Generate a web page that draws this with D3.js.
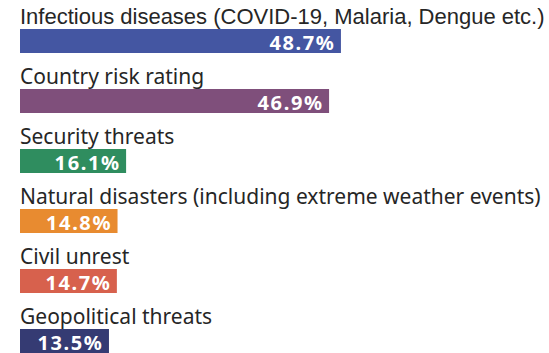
<!DOCTYPE html>
<html><head><meta charset="utf-8">
<script src="https://cdn.jsdelivr.net/npm/d3@7"></script>
<style>html,body{margin:0;padding:0;background:#fff;}svg{display:block;}</style>
</head><body><svg id="c" width="549" height="353"></svg>
<script>
const categories = [
  "Infectious diseases (COVID-19, Malaria, Dengue etc.)",
  "Country risk rating",
  "Security threats",
  "Natural disasters (including extreme weather events)",
  "Civil unrest",
  "Geopolitical threats"
];
const values = [48.7, 46.9, 16.1, 14.8, 14.7, 13.5];
const colors = ["#4456a2", "#7f4f7b", "#2f8d5f", "#e88b30", "#d7614d", "#353b73"];
const valueLabels = values.map(v => v.toFixed(1) + "%");

const svg = d3.select("#c");
const left = 20;
const x = d3.scaleLinear().domain([0, 50]).range([0, 329.5]);
const y = d3.scaleBand().domain(d3.range(categories.length)).range([0, 360]);

const g = svg.selectAll("g.row").data(categories).join("g")
  .attr("class", "row")
  .attr("transform", (d, i) => `translate(${left},${y(i)})`);

g.append("rect")
  .attr("x", 0).attr("y", 29)
  .attr("width", (d, i) => x(values[i]))
  .attr("height", 24)
  .attr("fill", (d, i) => colors[i]);

g.append("text")
  .attr("x", 0).attr("y", 24)
  .attr("fill", "#262626")
  .style("font-family", (d, i) => i === 0 ? "'Liberation Sans', Arial, sans-serif" : "'Noto Sans', sans-serif")
  .style("font-size", (d, i) => i === 0 ? "22px" : "21px")
  .text(d => d);

g.append("text")
  .attr("x", (d, i) => x(values[i]) - 5.5)
  .attr("y", 50)
  .attr("text-anchor", "end")
  .attr("fill", "#fff")
  .style("font-family", "'Noto Sans', sans-serif")
  .style("font-weight", "bold")
  .style("font-size", "20px")
  .style("letter-spacing", "1.6px")
  .text((d, i) => valueLabels[i]);
</script></body></html>
